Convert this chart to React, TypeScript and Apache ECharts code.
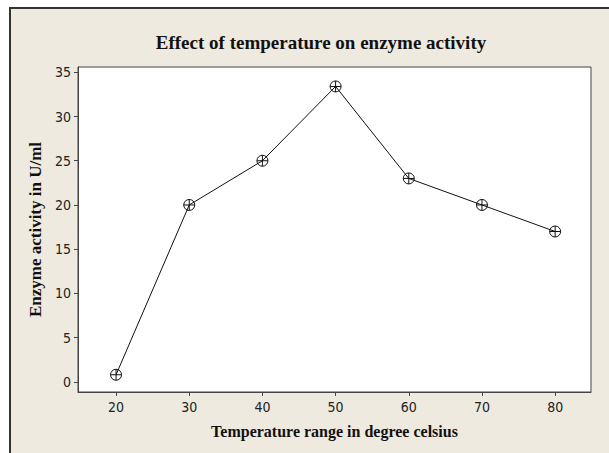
import React, { useEffect, useRef } from "react";
import * as echarts from "echarts";

const temperatures = [20, 30, 40, 50, 60, 70, 80];
const activity = [0.8, 20, 25, 33.4, 23, 20, 17];
const xTicks = [20, 30, 40, 50, 60, 70, 80];
const yTicks = [0, 5, 10, 15, 20, 25, 30, 35];

const markerPath =
  "path://M10,0A10,10,0,1,1,-10,0A10,10,0,1,1,10,0ZM-10,0L10,0M0,-10L0,10";

export default function App() {
  const ref = useRef<HTMLDivElement>(null);
  useEffect(() => {
    document.body.style.margin = "0";
    if (!ref.current) return;
    const chart = echarts.init(ref.current, undefined, { renderer: "svg" });
    const serif = "'Liberation Serif', 'Times New Roman', serif";
    const sans = "'DejaVu Sans Condensed', 'Liberation Sans', Arial, sans-serif";
    chart.setOption({
      animation: false,
      backgroundColor: "#ffffff",
      graphic: [
        {
          type: "rect",
          z: -10,
          shape: { x: 10, y: 8, width: 620, height: 470 },
          style: { fill: "#EEEAE0", stroke: "#333333", lineWidth: 2 },
          silent: true,
        },
      ],
      title: {
        text: "Effect of temperature on enzyme activity",
        left: 316,
        textAlign: "center",
        top: 28,
        textStyle: {
          fontFamily: serif,
          fontWeight: "bold",
          fontSize: 19,
          color: "#111",
        },
      },
      grid: {
        left: 78,
        top: 67,
        right: 18,
        bottom: 61,
        show: true,
        backgroundColor: "#ffffff",
        borderColor: "#444444",
        borderWidth: 1,
      },
      xAxis: {
        type: "value",
        min: 14.8,
        max: 84.9,
        name: "Temperature range in degree celsius",
        nameLocation: "middle",
        nameGap: 31,
        nameTextStyle: {
          fontFamily: serif,
          fontWeight: "bold",
          fontSize: 16,
          color: "#111",
        },
        axisLine: { show: true, onZero: false, lineStyle: { color: "#444444" } },
        axisTick: {
          show: true,
          length: 4,
          customValues: xTicks,
          lineStyle: { color: "#444444" },
        },
        axisLabel: {
          customValues: xTicks,
          fontFamily: sans,
          fontSize: 14,
          color: "#222",
          margin: 8,
        },
        splitLine: { show: false },
      },
      yAxis: {
        type: "value",
        min: -1.15,
        max: 35.6,
        name: "Enzyme activity in U/ml",
        nameLocation: "middle",
        nameGap: 32,
        nameTextStyle: {
          fontFamily: serif,
          fontWeight: "bold",
          fontSize: 17,
          color: "#111",
        },
        axisLine: { show: true, onZero: false, lineStyle: { color: "#444444" } },
        axisTick: {
          show: true,
          length: 4,
          customValues: yTicks,
          lineStyle: { color: "#444444" },
        },
        axisLabel: {
          customValues: yTicks,
          fontFamily: sans,
          fontSize: 14,
          color: "#222",
          margin: 7,
        },
        splitLine: { show: false },
      },
      series: [
        {
          type: "line",
          data: temperatures.map((t, i) => [t, activity[i]]),
          symbol: markerPath,
          symbolSize: 11,
          showAllSymbol: true,
          lineStyle: { color: "#111", width: 1 },
          itemStyle: { color: "transparent", borderColor: "#111", borderWidth: 1 },
        },
      ],
    });
    return () => chart.dispose();
  }, []);
  return <div ref={ref} style={{ width: 609, height: 453 }} />;
}
